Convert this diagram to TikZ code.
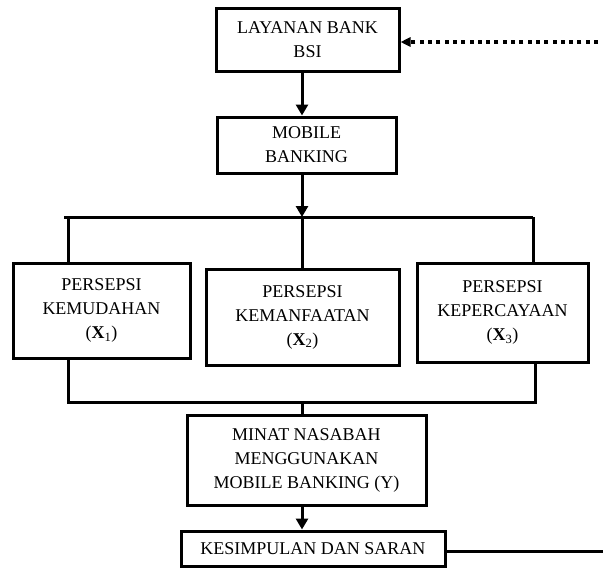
\documentclass[tikz,border=0pt]{standalone}
\usepackage{fontspec}
\setmainfont{Liberation Serif}
\usetikzlibrary{arrows.meta}
\tikzset{
  boxnode/.style={draw=black, line width=3pt, inner sep=0pt, align=center,
    font=\fontsize{18}{24}\selectfont},
  conn/.style={draw=black, line width=3pt},
  arr/.style={conn, -{Triangle[length=11pt,width=12pt]}},
  dotarr/.style={draw=black, line width=3.5pt, dash pattern=on 4pt off 4.3pt,
    -{Triangle[length=10pt,width=9pt]}},
}
\begin{document}
\begin{tikzpicture}[x=1pt,y=-1pt]
\useasboundingbox (0,0) rectangle (603,568);
% boxes
\node[boxnode, minimum width=183pt, minimum height=63pt] (box1) at (307.5,39.5) {LAYANAN BANK\\BSI};
\node[boxnode, minimum width=179pt, minimum height=56pt] (box2) at (306.5,145) {MOBILE\\BANKING};
\node[boxnode, minimum width=177pt, minimum height=95pt] (x1) at (101.5,310.5) {PERSEPSI\\KEMUDAHAN\\(\textbf{X}\textsubscript{1})};
\node[boxnode, minimum width=193pt, minimum height=96pt] (x2) at (302.5,317) {PERSEPSI\\KEMANFAATAN\\(\textbf{X}\textsubscript{2})};
\node[boxnode, minimum width=171pt, minimum height=99pt] (x3) at (502.5,312.5) {PERSEPSI\\KEPERCAYAAN\\(\textbf{X}\textsubscript{3})};
\node[boxnode, minimum width=239pt, minimum height=90pt] (minat) at (306.5,460) {MINAT NASABAH\\MENGGUNAKAN\\MOBILE BANKING (Y)};
\node[boxnode, minimum width=264pt, minimum height=35pt] (kes) at (313,548.5) {KESIMPULAN DAN SARAN};
% junction coordinates
\coordinate (tA) at (302,217);
\coordinate (jl) at (68,217);
\coordinate (jr) at (533,217);
\coordinate (tB) at (302,402);
\coordinate (bl) at (68,402);
\coordinate (br) at (535,402);
\coordinate (dstart) at (598,42);
\coordinate (kend) at (603,551);
% connectors
\draw[dotarr] (dstart) -- (box1.east |- dstart);
\draw[arr] (box1.south -| tA) -- (box2.north -| tA);
\draw[arr] (box2.south -| tA) -- (tA);
\draw[conn] ([xshift=-4pt]jl) -- (jr);
\draw[conn] (jl) -- (x1.north -| jl);
\draw[conn] (tA) -- (x2.north -| tA);
\draw[conn] (jr) -- (x3.north -| jr);
\draw[conn] (x1.south -| bl) -- (bl) -- (br) -- (x3.south -| br);
\draw[conn] (tB) -- (minat.north -| tB);
\draw[arr] (minat.south -| tB) -- (kes.north -| tB);
\draw[conn] (kes.east |- kend) -- (kend);
\end{tikzpicture}
\end{document}
